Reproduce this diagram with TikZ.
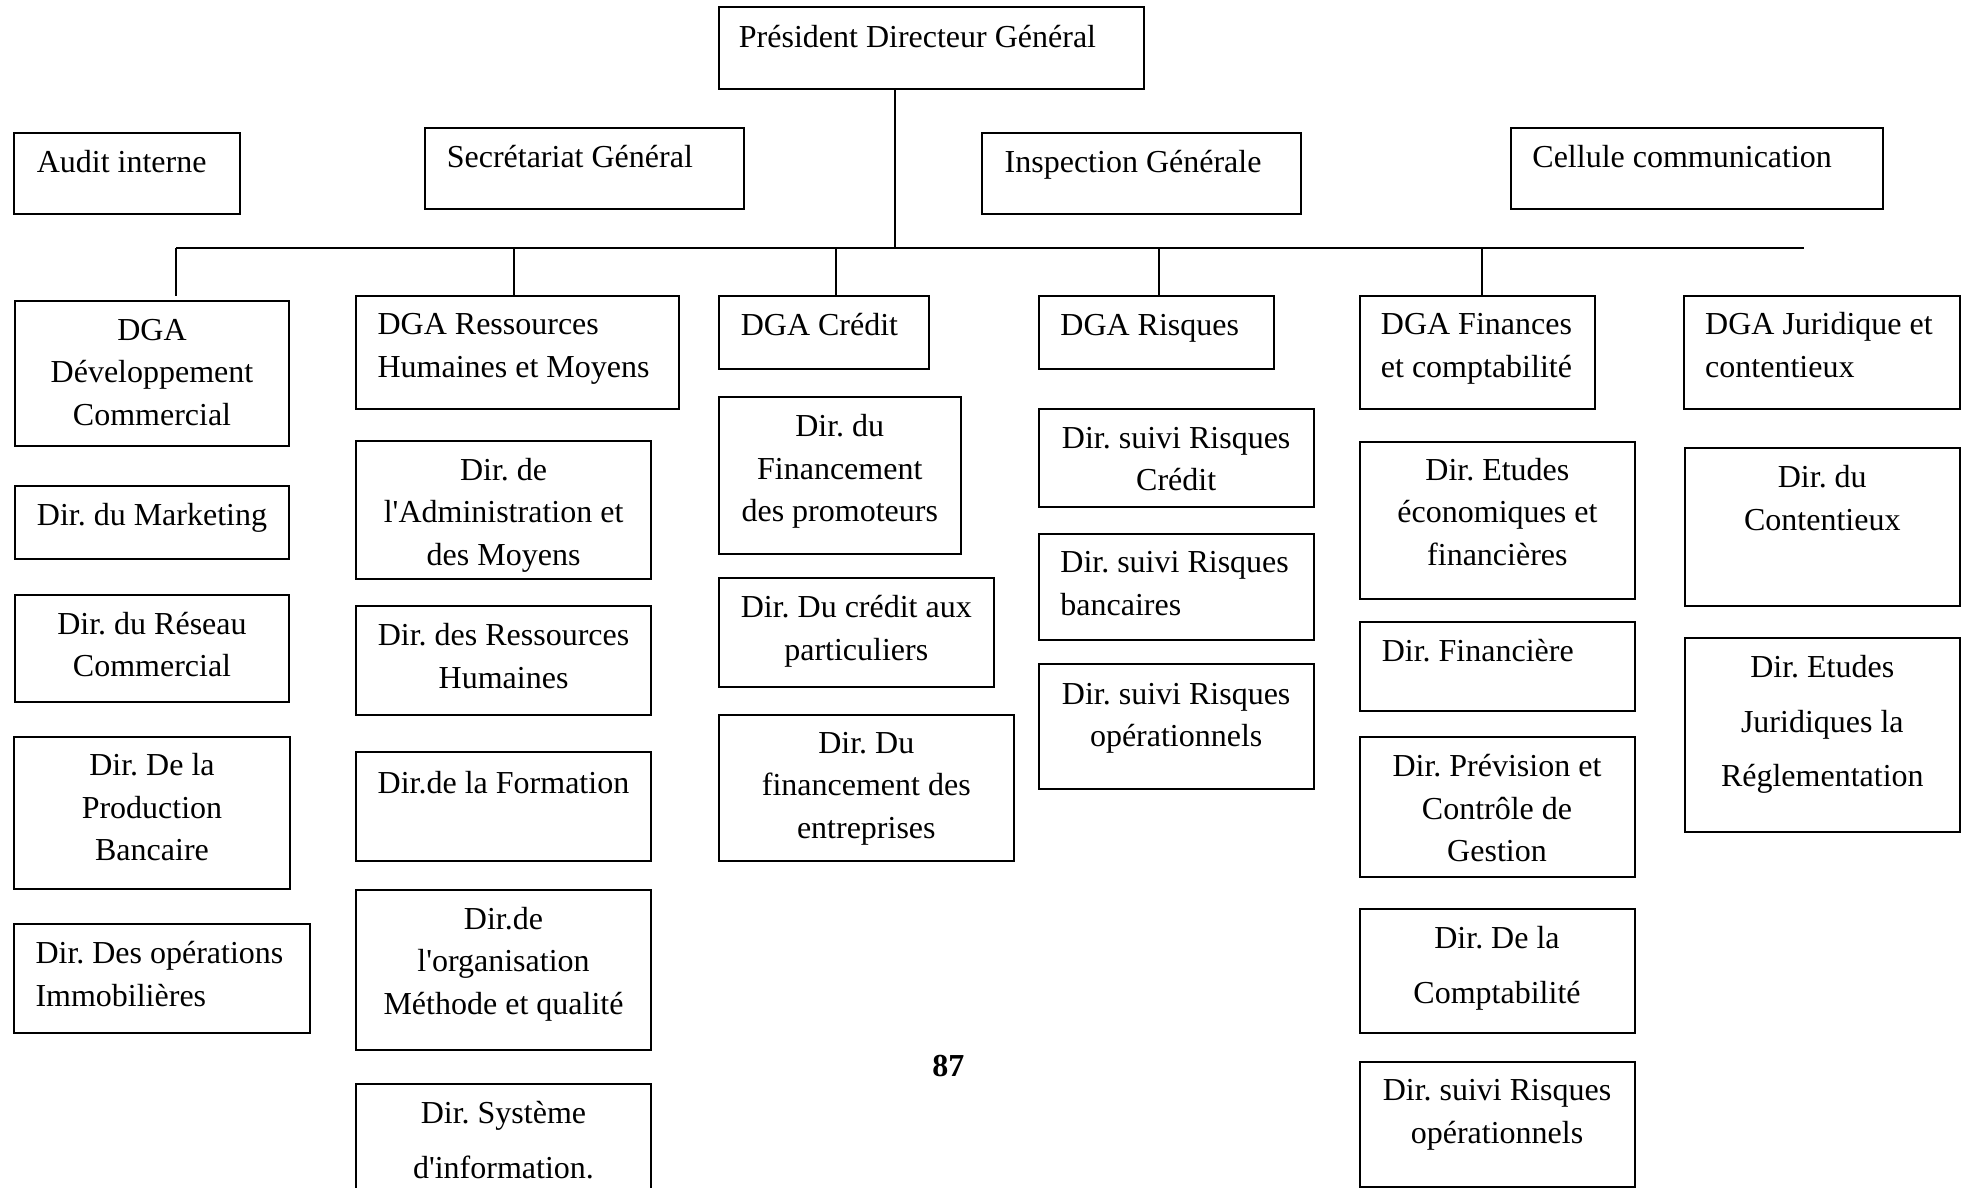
\documentclass[tikz,border=0pt]{standalone}
\usepackage{fontspec}
\setmainfont{Liberation Serif}
\usetikzlibrary{fit}
\frenchspacing
\tikzset{
  bx/.style={draw=black, line width=1pt, inner sep=0pt, fill=none},
  tx/.style={inner sep=0pt, font=\fontsize{16}{21.25}\selectfont\frenchspacing},
  txw/.style={inner sep=0pt, font=\fontsize{16}{27.25}\selectfont\frenchspacing},
  conn/.style={draw=black, line width=1pt},
}
\newcommand{\mybox}[5]{\node[bx, fit={(#2,#3) (#4,#5)}] (#1) {};}
\newcommand{\ap}{\textquotesingle}
\begin{document}
\begin{tikzpicture}[x=0.5pt, y=-0.5pt]
\useasboundingbox (0,0) rectangle (1964,1188);
\clip (0,0) rectangle (1964,1188);
\fill[white] (0,0) rectangle (1964,1188);
% top level (anchors: baseline of the last line)
\mybox{pdg}{718.7}{7.3}{1144}{89.3}
\node[tx, anchor=base west] (pdgt) at (738.5,47.3) {Président Directeur Général};
\mybox{audit}{14}{132.7}{240.4}{214.3}
\node[tx, anchor=base west] (auditt) at (36.4,172.3) {Audit interne};
\mybox{sg}{425.4}{127.7}{743.6}{209.3}
\node[tx, anchor=base west] (sgt) at (446.4,167.7) {Secrétariat Général};
\mybox{ig}{982.3}{132.7}{1301}{214.3}
\node[tx, anchor=base west] (igt) at (1004.3,172.3) {Inspection Générale};
\mybox{cc}{1511.3}{127.7}{1882.5}{209.3}
\node[tx, anchor=base west] (cct) at (1532,167.7) {Cellule communication};
% DGA row
\mybox{dev}{14.7}{300.7}{289.3}{445.7}
\node[tx, anchor=base, align=center] (devt) at (152,425) {DGA\\Développement\\Commercial};
\mybox{rh}{356.3}{295.7}{678.6}{409}
\node[tx, anchor=base west, align=left] (rht) at (377.2,377.3) {DGA Ressources\\Humaines et Moyens};
\mybox{cred}{719}{295.7}{928.8}{368.7}
\node[tx, anchor=base west] (credt) at (740.4,335) {DGA Crédit};
\mybox{risq}{1038.7}{295.7}{1273.5}{368.7}
\node[tx, anchor=base west] (risqt) at (1060,335) {DGA Risques};
\mybox{fin}{1359.9}{295.7}{1595.3}{409}
\node[tx, anchor=base west, align=left] (fint) at (1380.5,377.3) {DGA Finances\\et comptabilité};
\mybox{jur}{1684.2}{295.7}{1959.6}{409}
\node[tx, anchor=base west, align=left] (jurt) at (1704.8,377.3) {DGA Juridique et\\contentieux};
% column 1
\mybox{mkt}{14.7}{486}{289.3}{558.7}
\node[tx, anchor=base] (mktt) at (152,525) {Dir. du Marketing};
\mybox{res}{14.7}{594.7}{289.3}{701.7}
\node[tx, anchor=base, align=center] (rest) at (152,676.7) {Dir. du Réseau\\Commercial};
\mybox{prod}{14}{736.7}{289.5}{889}
\node[tx, anchor=base, align=center] (prodt) at (152,860.7) {Dir. De la\\Production\\Bancaire};
\mybox{immo}{14}{924}{310}{1033.3}
\node[tx, anchor=base west, align=left] (immot) at (35.1,1006) {Dir. Des opérations\\Immobilières};
% column 2
\mybox{adm}{356.3}{440.7}{650.9}{578.7}
\node[tx, anchor=base, align=center] (admt) at (503.6,565) {Dir. de\\l\ap Administration et\\des Moyens};
\mybox{drh}{356.3}{606}{650.9}{715}
\node[tx, anchor=base, align=center] (drht) at (503.6,688.3) {Dir. des Ressources\\Humaines};
\mybox{form}{355.9}{752.3}{651.1}{861.3}
\node[tx, anchor=base] (formt) at (503.5,793.3) {Dir.de la Formation};
\mybox{org}{355.9}{890}{651.1}{1050}
\node[tx, anchor=base, align=center] (orgt) at (503.5,1014) {Dir.de\\l\ap organisation\\Méthode et qualité};
\mybox{si}{355.9}{1084.3}{651.1}{1200}
\node[txw, anchor=base, align=center] (sit) at (503.5,1178.3) {Dir. Système\\d\ap information.};
% column 3
\mybox{promo}{719}{397.3}{960.5}{554}
\node[tx, anchor=base, align=center] (promot) at (839.75,521.7) {Dir. du\\Financement\\des promoteurs};
\mybox{part}{719}{578.3}{993.6}{687}
\node[tx, anchor=base, align=center] (partt) at (856.3,660) {Dir. Du crédit aux\\particuliers};
\mybox{entr}{718.8}{715}{1013.7}{861.3}
\node[tx, anchor=base, align=center] (entrt) at (866.3,838.3) {Dir. Du\\financement des\\entreprises};
% column 4
\mybox{src}{1038.7}{409}{1313.7}{506.7}
\node[tx, anchor=base, align=center] (srct) at (1176.2,490.7) {Dir. suivi Risques\\Crédit};
\mybox{srb}{1038.7}{533.7}{1313.7}{640}
\node[tx, anchor=base west, align=left] (srbt) at (1060,615) {Dir. suivi Risques\\bancaires};
\mybox{sro}{1038.7}{664}{1313.7}{789}
\node[tx, anchor=base, align=center] (srot) at (1176.2,746.7) {Dir. suivi Risques\\opérationnels};
% column 5
\mybox{eco}{1359.9}{441.7}{1634.9}{599}
\node[tx, anchor=base, align=center] (ecot) at (1497.4,565) {Dir. Etudes\\économiques et\\financières};
\mybox{dfin}{1359.9}{622.3}{1634.9}{710.7}
\node[tx, anchor=base west] (dfint) at (1381.4,661.7) {Dir. Financière};
\mybox{prev}{1359.6}{736.7}{1634.5}{876.7}
\node[tx, anchor=base, align=center] (prevt) at (1497,861.7) {Dir. Prévision et\\Contrôle de\\Gestion};
\mybox{compt}{1359.6}{908.7}{1634.5}{1033.3}
\node[txw, anchor=base, align=center] (comptt) at (1497,1003.3) {Dir. De la\\Comptabilité};
\mybox{sro2}{1359.6}{1061.7}{1634.5}{1186.7}
\node[tx, anchor=base, align=center] (sro2t) at (1497,1143.3) {Dir. suivi Risques\\opérationnels};
% column 6
\mybox{cont}{1685}{447.7}{1959.6}{605.7}
\node[tx, anchor=base, align=center] (contt) at (1822.3,530) {Dir. du\\Contentieux};
\mybox{ejur}{1685}{637.7}{1959.6}{832}
\node[txw, anchor=base, align=center] (ejurt) at (1822.3,786.7) {Dir. Etudes\\Juridiques la\\Réglementation};
% page number
\node[tx, anchor=base, font=\fontsize{16}{20}\selectfont\bfseries] (pagenum) at (948.3,1076.7) {87};
% connectors
\coordinate (busL) at (176,247.7);
\coordinate (busR) at (1804,247.7);
\coordinate (busM) at (895.4,247.7);
\draw[conn] (busL) -- (busR);
\draw[conn] (pdg.south -| busM) -- (busM);
\draw[conn] (busL) -- (176,295.7);
\draw[conn] (rh.north -| 514,0) -- (514,247.7);
\draw[conn] (cred.north -| 836.4,0) -- (836.4,247.7);
\draw[conn] (risq.north -| 1158.9,0) -- (1158.9,247.7);
\draw[conn] (fin.north -| 1481.6,0) -- (1481.6,247.7);
\end{tikzpicture}
\end{document}
